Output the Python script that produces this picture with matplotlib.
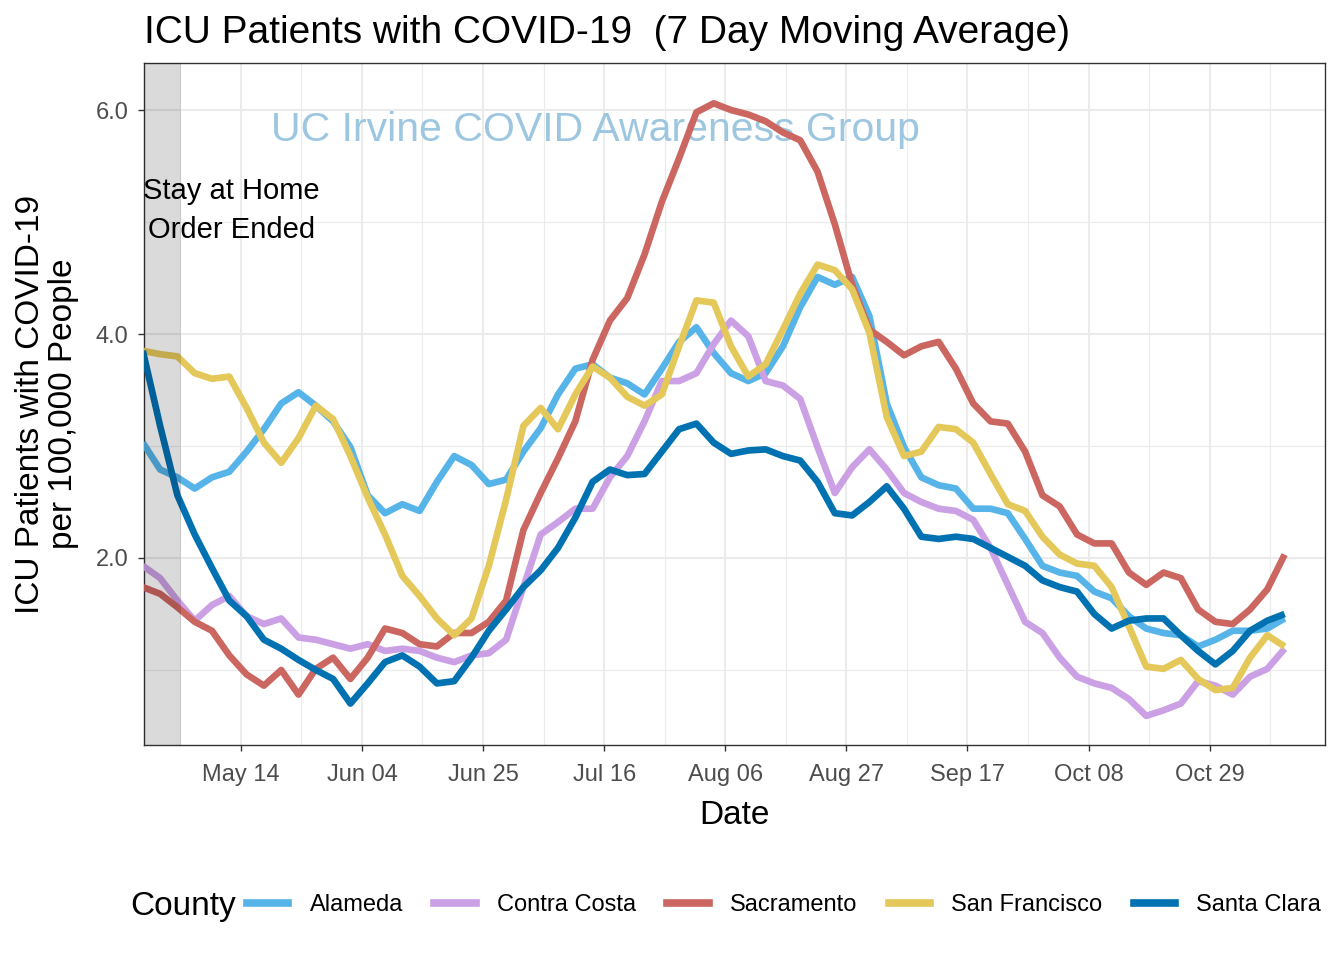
import numpy as np
import pandas as pd
import matplotlib
matplotlib.use("Agg")
import matplotlib.pyplot as plt
import matplotlib.dates as mdates
from matplotlib.lines import Line2D

plt.rcParams["font.family"] = ["Liberation Sans", "DejaVu Sans"]

# data: 7 day moving average, ICU patients per 100k, sampled every 3 days
dates = pd.date_range("2020-04-27", periods=67, freq="3D")

alameda = [3.03, 2.79, 2.72, 2.62, 2.72, 2.77, 2.95, 3.15, 3.38, 3.48, 3.36, 3.22,
           2.99, 2.56, 2.40, 2.48, 2.42, 2.68, 2.91, 2.83, 2.66, 2.70, 2.95, 3.16,
           3.46, 3.69, 3.73, 3.61, 3.56, 3.46, 3.69, 3.93, 4.06, 3.83, 3.65, 3.58,
           3.65, 3.89, 4.24, 4.51, 4.44, 4.51, 4.16, 3.38, 2.99, 2.72, 2.65, 2.62,
           2.44, 2.44, 2.40, 2.17, 1.93, 1.87, 1.84, 1.70, 1.64, 1.48, 1.37, 1.33,
           1.31, 1.21, 1.27, 1.35, 1.35, 1.37, 1.46]
contra_costa = [1.93, 1.82, 1.62, 1.44, 1.58, 1.66, 1.48, 1.41, 1.46, 1.29, 1.27, 1.23,
                1.19, 1.23, 1.17, 1.19, 1.17, 1.11, 1.07, 1.13, 1.15, 1.27, 1.74, 2.21,
                2.32, 2.44, 2.44, 2.72, 2.91, 3.22, 3.58, 3.58, 3.65, 3.91, 4.12, 3.98,
                3.58, 3.54, 3.42, 2.99, 2.58, 2.81, 2.97, 2.79, 2.58, 2.50, 2.44, 2.42,
                2.34, 2.09, 1.76, 1.43, 1.33, 1.11, 0.94, 0.88, 0.84, 0.74, 0.59, 0.64,
                0.70, 0.90, 0.86, 0.78, 0.94, 1.01, 1.19]
sacramento = [1.74, 1.68, 1.56, 1.43, 1.35, 1.13, 0.96, 0.86, 1.00, 0.78, 1.01, 1.11,
              0.92, 1.11, 1.37, 1.33, 1.23, 1.21, 1.33, 1.33, 1.43, 1.62, 2.25, 2.58,
              2.89, 3.22, 3.77, 4.12, 4.32, 4.71, 5.18, 5.57, 5.98, 6.06, 6.00, 5.96,
              5.90, 5.80, 5.73, 5.45, 4.98, 4.44, 4.04, 3.93, 3.81, 3.89, 3.93, 3.69,
              3.38, 3.22, 3.20, 2.95, 2.56, 2.46, 2.21, 2.13, 2.13, 1.87, 1.76, 1.87,
              1.82, 1.54, 1.43, 1.41, 1.54, 1.72, 2.03]
san_francisco = [3.85, 3.82, 3.80, 3.65, 3.60, 3.62, 3.34, 3.03, 2.85, 3.07, 3.36, 3.24,
                 2.91, 2.54, 2.21, 1.84, 1.66, 1.46, 1.31, 1.46, 1.93, 2.52, 3.18, 3.34,
                 3.15, 3.46, 3.71, 3.61, 3.44, 3.36, 3.46, 3.89, 4.30, 4.28, 3.89, 3.62,
                 3.73, 4.04, 4.36, 4.62, 4.57, 4.40, 4.01, 3.26, 2.91, 2.95, 3.17, 3.15,
                 3.03, 2.75, 2.48, 2.42, 2.19, 2.03, 1.95, 1.93, 1.74, 1.39, 1.03, 1.01,
                 1.09, 0.92, 0.82, 0.84, 1.11, 1.31, 1.21]
santa_clara = [3.85, 3.18, 2.56, 2.21, 1.91, 1.62, 1.48, 1.27, 1.19, 1.09, 1.00, 0.92,
               0.70, 0.88, 1.07, 1.13, 1.03, 0.88, 0.90, 1.11, 1.35, 1.54, 1.74, 1.89,
               2.09, 2.36, 2.68, 2.79, 2.74, 2.75, 2.95, 3.15, 3.20, 3.03, 2.93, 2.96,
               2.97, 2.91, 2.87, 2.68, 2.40, 2.38, 2.50, 2.64, 2.44, 2.19, 2.17, 2.19,
               2.17, 2.09, 2.01, 1.93, 1.80, 1.74, 1.70, 1.50, 1.37, 1.44, 1.46, 1.46,
               1.31, 1.17, 1.05, 1.17, 1.35, 1.44, 1.50]

counties = ["Alameda", "Contra Costa", "Sacramento", "San Francisco", "Santa Clara"]
colors = ["#56B4E9", "#CBA0E4", "#CC6660", "#E5C85A", "#0072B2"]
series = [alameda, contra_costa, sacramento, san_francisco, santa_clara]

tick_dates = pd.date_range("2020-05-14", periods=9, freq="21D")
minor_dates = pd.date_range("2020-05-03 12:00", periods=10, freq="21D")
shade_end = pd.Timestamp("2020-05-03 16:00")
x_lo = pd.Timestamp("2020-04-27 05:00")
x_hi = pd.Timestamp("2020-11-18 00:00")

fig = plt.figure(figsize=(13.44, 9.6), dpi=100)
ax = fig.add_axes([144 / 1344, 1 - 745 / 960, (1325 - 144) / 1344, (745 - 63) / 960])

for name, vals, col in zip(counties, series, colors):
    ax.plot(dates, vals, color=col, lw=4.8, solid_capstyle="butt",
            solid_joinstyle="round", zorder=3)

ax.axvspan(x_lo - pd.Timedelta(days=2), shade_end, color="black", alpha=0.145, lw=0, zorder=4)

ax.set_xlim(x_lo, x_hi)
ax.set_ylim(0.33, 6.42)
ax.set_yticks([2, 4, 6])
ax.set_yticklabels(["2.0", "4.0", "6.0"])
ax.set_yticks([1, 3, 5], minor=True)
ax.set_xticks(tick_dates)
ax.set_xticklabels([d.strftime("%b %d") for d in tick_dates])
ax.set_xticks(minor_dates, minor=True)

ax.grid(True, which="major", color="#EBEBEB", lw=1.5, zorder=0)
ax.grid(True, which="minor", color="#EBEBEB", lw=0.8, zorder=0)
ax.set_axisbelow(True)
ax.tick_params(axis="x", which="major", pad=10)
ax.tick_params(axis="y", which="major", pad=7)
ax.tick_params(which="major", length=4, width=1, color="#333333", labelsize=17,
               labelcolor="#4D4D4D")
ax.tick_params(which="minor", length=0)
for sp in ax.spines.values():
    sp.set_color("#333333")
    sp.set_linewidth(1)

ax.text(pd.Timestamp("2020-05-12 08:00"), 5.1, "Stay at Home\nOrder Ended", fontsize=21,
        ha="center", va="center", linespacing=1.5, zorder=5)
ax.text(pd.Timestamp("2020-07-14 10:00"), 5.82, "UC Irvine COVID Awareness Group",
        fontsize=29.5, color="#9DC6E0", ha="center", va="center", zorder=2)

ax.set_xlabel("Date", fontsize=24, labelpad=10)
ax.set_ylabel("ICU Patients with COVID-19\nper 100,000 People", fontsize=24, labelpad=12,
              linespacing=1.1)

fig.text(144 / 1344, 1 - 33 / 960, "ICU Patients with COVID-19  (7 Day Moving Average)",
         fontsize=28, ha="left", va="center")

fig.text(130 / 1344, 1 - 906 / 960, "County", fontsize=24, ha="left", va="center")
handles = [Line2D([], [], color=c, lw=5.5) for c in colors]
fig.legend(handles, counties, loc="center left", bbox_to_anchor=(247 / 1344, 1 - 905 / 960),
           ncol=5, frameon=False, fontsize=17, handlelength=1.75, handletextpad=0.9,
           columnspacing=1.33, borderpad=0, borderaxespad=0)

fig.savefig("out.png", dpi=100)
